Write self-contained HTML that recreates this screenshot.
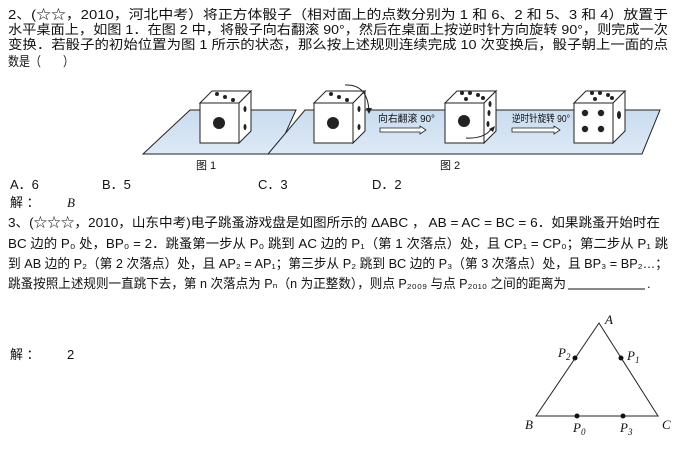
<!DOCTYPE html>
<html><head><meta charset="utf-8"><style>
html,body{margin:0;padding:0;background:#fff;}
svg{display:block}
text{font-family:"Liberation Sans","Noto Sans CJK SC",sans-serif;font-size:13px;fill:#111}
.i{font-family:"Liberation Serif","Noto Serif CJK SC",serif;font-style:italic}
</style></head><body>
<svg width="676" height="470" viewBox="0 0 676 470" xmlns="http://www.w3.org/2000/svg">
<defs>
<linearGradient id="pl" x1="0" y1="0" x2="0" y2="1"><stop offset="0" stop-color="#c9dcef"/><stop offset="1" stop-color="#dde9f6"/></linearGradient>
<g id="die">
<polygon points="0,12 12,0 51,0 39,12" fill="#fff" stroke="#222" stroke-width="1"/>
<polygon points="39,12 51,0 51,40 39,52" fill="#fff" stroke="#222" stroke-width="1"/>
<rect x="0" y="12" width="39" height="40" fill="#fff" stroke="#222" stroke-width="1"/>
</g>
</defs>
<text x="8" y="19" textLength="660" lengthAdjust="spacingAndGlyphs">2、(☆☆，2010，河北中考）将正方体骰子（相对面上的点数分别为 1 和 6、2 和 5、3 和 4）放置于</text>
<text x="8" y="34" textLength="660" lengthAdjust="spacingAndGlyphs">水平桌面上，如图 1．在图 2 中，将骰子向右翻滚 90°，然后在桌面上按逆时针方向旋转 90°，则完成一次</text>
<text x="8" y="49" textLength="660" lengthAdjust="spacingAndGlyphs">变换．若骰子的初始位置为图 1 所示的状态，那么按上述规则连续完成 10 次变换后，骰子朝上一面的点</text>
<text x="8" y="66" textLength="66" lengthAdjust="spacingAndGlyphs">数是（　　）</text>

<polygon points="190,110 296,110 276,154 143,154" fill="url(#pl)" stroke="#222"/>
<polygon points="305,110 660,110 642,154 268,154" fill="url(#pl)" stroke="#222"/>

<use href="#die" x="200" y="91"/>
<circle cx="219" cy="123" r="6" fill="#222"/>
<circle cx="217" cy="94" r="2" fill="#222"/><circle cx="225" cy="97" r="2" fill="#222"/><circle cx="233" cy="100" r="2" fill="#222"/>
<ellipse cx="245" cy="109" rx="1.5" ry="3" fill="#222"/><ellipse cx="245" cy="127" rx="1.5" ry="3" fill="#222"/>

<use href="#die" x="314" y="91"/>
<circle cx="333" cy="123" r="6" fill="#222"/>
<circle cx="331" cy="94" r="2" fill="#222"/><circle cx="339" cy="97" r="2" fill="#222"/><circle cx="347" cy="100" r="2" fill="#222"/>
<ellipse cx="359" cy="109" rx="1.5" ry="3" fill="#222"/><ellipse cx="359" cy="127" rx="1.5" ry="3" fill="#222"/>
<path d="M345,85 Q368,84 369,112" fill="none" stroke="#222"/><polygon points="366,108 372,108 369,114" fill="#222"/>

<text x="378" y="122" style="font-size:10px" textLength="57" lengthAdjust="spacingAndGlyphs">向右翻滚 90°</text>
<polygon points="380,128 420,128 420,126 426,130 420,134 420,132 380,132" fill="#fff" stroke="#222" stroke-width="0.8"/>

<use href="#die" x="445" y="91"/>
<circle cx="464" cy="121" r="6" fill="#222"/>
<circle cx="462" cy="93" r="2" fill="#222"/><circle cx="470" cy="93" r="2" fill="#222"/><circle cx="478" cy="95" r="2" fill="#222"/><circle cx="466" cy="99" r="2" fill="#222"/><circle cx="483" cy="98" r="2" fill="#222"/>
<ellipse cx="490" cy="104" rx="1.5" ry="3" fill="#222"/><ellipse cx="489" cy="113" rx="1.5" ry="3" fill="#222"/><ellipse cx="488" cy="124" rx="1.5" ry="3" fill="#222"/>
<path d="M466,138 Q485,139 492,128" fill="none" stroke="#222"/><polygon points="489,129 495,126 493,132" fill="#222"/>

<text x="512" y="122" style="font-size:10px" textLength="58" lengthAdjust="spacingAndGlyphs">逆时针旋转 90°</text>
<polygon points="512,128 554,128 554,126 560,130 554,134 554,132 512,132" fill="#fff" stroke="#222" stroke-width="0.8"/>

<use href="#die" x="574" y="91"/>
<circle cx="585" cy="113" r="3.2" fill="#222"/><circle cx="601" cy="113" r="3.2" fill="#222"/><circle cx="585" cy="129" r="3.2" fill="#222"/><circle cx="601" cy="129" r="3.2" fill="#222"/>
<circle cx="592" cy="93" r="2" fill="#222"/><circle cx="600" cy="93" r="2" fill="#222"/><circle cx="608" cy="95" r="2" fill="#222"/><circle cx="595" cy="99" r="2" fill="#222"/><circle cx="612" cy="98" r="2" fill="#222"/>
<ellipse cx="619" cy="115" rx="2" ry="4" fill="#222"/>

<text x="196" y="169" style="font-size:11px">图 1</text>
<text x="440" y="169" style="font-size:11px">图 2</text>

<text x="10" y="189">A．6</text>
<text x="102" y="189">B．5</text>
<text x="258" y="189">C．3</text>
<text x="372" y="189">D．2</text>
<text x="10" y="207">解 ：</text>
<text x="67" y="207" class="i">B</text>

<text x="8" y="227" textLength="652" lengthAdjust="spacingAndGlyphs">3、(☆☆☆，2010，山东中考)电子跳蚤游戏盘是如图所示的 ΔABC ， AB = AC = BC = 6．如果跳蚤开始时在</text>
<text x="8" y="248" textLength="660" lengthAdjust="spacingAndGlyphs">BC 边的 P₀ 处，BP₀ = 2．跳蚤第一步从 P₀ 跳到 AC 边的 P₁（第 1 次落点）处，且 CP₁ = CP₀；第二步从 P₁ 跳</text>
<text x="8" y="268" textLength="660" lengthAdjust="spacingAndGlyphs">到 AB 边的 P₂（第 2 次落点）处，且 AP₂ = AP₁；第三步从 P₂ 跳到 BC 边的 P₃（第 3 次落点）处，且 BP₃ = BP₂…；</text>
<text x="8" y="288" textLength="558" lengthAdjust="spacingAndGlyphs">跳蚤按照上述规则一直跳下去，第 n 次落点为 Pₙ（n 为正整数），则点 P₂₀₀₉ 与点 P₂₀₁₀ 之间的距离为</text>
<line x1="568" y1="289" x2="645" y2="289" stroke="#111"/>
<text x="647" y="288">.</text>

<text x="10" y="359">解 ：</text>
<text x="67" y="359">2</text>

<polygon points="599,323 536,416 658,416" fill="none" stroke="#222" stroke-width="1"/>
<circle cx="575" cy="358" r="2.5" fill="#111"/><circle cx="621" cy="358" r="2.5" fill="#111"/>
<circle cx="577" cy="416" r="2.5" fill="#111"/><circle cx="623" cy="416" r="2.5" fill="#111"/>
<text x="605" y="324" class="i">A</text>
<text x="525" y="429" class="i">B</text>
<text x="662" y="429" class="i">C</text>
<text x="558" y="357" class="i">P<tspan style="font-size:9px" dy="3">2</tspan></text>
<text x="627" y="360" class="i">P<tspan style="font-size:9px" dy="3">1</tspan></text>
<text x="573" y="432" class="i">P<tspan style="font-size:9px" dy="3">0</tspan></text>
<text x="620" y="432" class="i">P<tspan style="font-size:9px" dy="3">3</tspan></text>
</svg>
</body></html>
